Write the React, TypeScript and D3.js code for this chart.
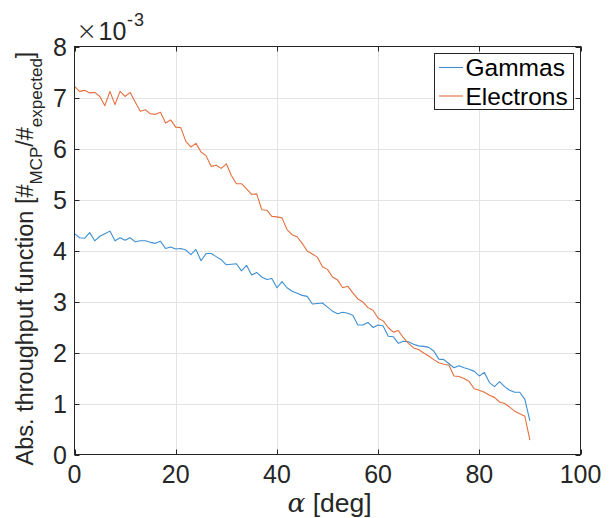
import React from "react";
import * as d3 from "d3";

const angles: number[] = d3.range(0, 91);
const gammas: number[] = [
  4.33, 4.25, 4.24, 4.35, 4.19, 4.28, 4.33, 4.38, 4.19, 4.25,
  4.2, 4.25, 4.17, 4.19, 4.19, 4.16, 4.14, 4.18, 4.04, 4.07,
  4.03, 4.04, 4.01, 3.92, 4.02, 3.8, 3.94, 3.94, 3.88, 3.82,
  3.72, 3.73, 3.74, 3.6, 3.71, 3.52, 3.57, 3.48, 3.43, 3.45,
  3.27, 3.39, 3.27, 3.2, 3.16, 3.12, 3.1, 2.95, 2.96, 2.97,
  2.89, 2.81, 2.76, 2.79, 2.77, 2.73, 2.54, 2.54, 2.59, 2.49,
  2.54, 2.52, 2.32, 2.31, 2.18, 2.22, 2.21, 2.16, 2.13, 2.12,
  2.1, 2.03, 1.87, 1.86, 1.78, 1.7, 1.74, 1.7, 1.67, 1.63,
  1.54, 1.61, 1.41, 1.33, 1.43, 1.33, 1.26, 1.22, 1.22, 1.08,
  0.66,
];
const electrons: number[] = [
  7.22, 7.12, 7.14, 7.09, 7.1, 7.02, 6.84, 7.12, 6.86, 7.12,
  7.02, 7.1, 6.91, 6.73, 6.76, 6.68, 6.67, 6.71, 6.5, 6.56,
  6.42, 6.41, 6.14, 6.03, 6.1, 5.93, 5.86, 5.65, 5.67, 5.61,
  5.7, 5.47, 5.31, 5.31, 5.21, 5.1, 5.11, 4.8, 4.79, 4.67,
  4.66, 4.64, 4.41, 4.31, 4.27, 4.14, 3.99, 3.93, 3.87, 3.68,
  3.63, 3.48, 3.42, 3.27, 3.3, 3.17, 3.05, 2.99, 2.88, 2.83,
  2.67, 2.62, 2.49, 2.4, 2.43, 2.29, 2.18, 2.09, 2.06, 1.99,
  1.93, 1.86, 1.8, 1.77, 1.75, 1.54, 1.53, 1.49, 1.43, 1.29,
  1.26, 1.22, 1.16, 1.12, 1.03, 1.0, 0.93, 0.85, 0.8, 0.75,
  0.28,
];
const xTicks: number[] = [0, 20, 40, 60, 80, 100];
const yTicks: number[] = [0, 1, 2, 3, 4, 5, 6, 7, 8];
const seriesNames: string[] = ["Gammas", "Electrons"];
const seriesColors: string[] = ["#3f8fd2", "#e4703f"];

const W = 615;
const H = 518;
const L = 74.5, R = 580.5, T = 46.5, B = 454.5;
const FONT = "'Liberation Sans', Arial, Helvetica, sans-serif";
const AX = "#262626";

export default function App() {
  const x = d3.scaleLinear().domain([0, 100]).range([L, R]);
  const y = d3.scaleLinear().domain([0, 8]).range([B, T]);
  const line = d3
    .line<number>()
    .x((_, i) => x(angles[i]))
    .y((d) => y(d));
  const series = [gammas, electrons];
  const tl = 5;
  return (
    <svg
      width={W}
      height={H}
      style={{ position: "absolute", left: 0, top: 0, background: "#fff" }}
      fontFamily={FONT}
    >
      <rect x={0} y={0} width={W} height={H} fill="#fff" />
      {xTicks.slice(1, -1).map((t) => (
        <line key={"gx" + t} x1={Math.round(x(t)) + 0.5} x2={Math.round(x(t)) + 0.5} y1={T} y2={B} stroke="#e3e3e3" strokeWidth={1} />
      ))}
      {yTicks.slice(1, -1).map((t) => (
        <line key={"gy" + t} x1={L} x2={R} y1={Math.round(y(t)) + 0.5} y2={Math.round(y(t)) + 0.5} stroke="#e3e3e3" strokeWidth={1} />
      ))}
      {series.map((s, i) => (
        <path key={"s" + i} d={line(s) || ""} fill="none" stroke={seriesColors[i]} strokeWidth={1.1} strokeLinejoin="round" />
      ))}
      <rect x={L} y={T} width={R - L} height={B - T} fill="none" stroke={AX} strokeWidth={1} />
      {xTicks.map((t) => {
        const px = Math.round(x(t)) + 0.5;
        return (
          <g key={"tx" + t}>
            <line x1={px} x2={px} y1={B} y2={B - tl} stroke={AX} />
            <line x1={px} x2={px} y1={T} y2={T + tl} stroke={AX} />
            <text x={x(t)} y={483} textAnchor="middle" fontSize={25} fill={AX}>
              {t}
            </text>
          </g>
        );
      })}
      {yTicks.map((t) => {
        const py = Math.round(y(t)) + 0.5;
        return (
          <g key={"ty" + t}>
            <line x1={L} x2={L + tl} y1={py} y2={py} stroke={AX} />
            <line x1={R} x2={R - tl} y1={py} y2={py} stroke={AX} />
            <text x={67} y={y(t) + 9} textAnchor="end" fontSize={25} fill={AX}>
              {t}
            </text>
          </g>
        );
      })}
      <text y={40} fontSize={25} fill={AX}>
        <tspan x={77} fontSize={30} fontFamily="Inter, 'DejaVu Sans', sans-serif" fontWeight={200}>×</tspan>
        <tspan x={98.5} fontFamily={FONT}>10</tspan>
        <tspan x={127} fontSize={18} dy={-14} letterSpacing={1}>-3</tspan>
      </text>
      <text x={(L + R) / 2 + 2} y={512} textAnchor="middle" fontSize={26.5} fill={AX}>
        <tspan fontFamily="'DejaVu Serif', serif" fontStyle="italic">α</tspan>
        {" [deg]"}
      </text>
      <text
        transform={`translate(33,${(T + B) / 2 + 8}) rotate(-90)`}
        textAnchor="middle"
        fontSize={23.5}
        fill={AX}
      >
        Abs. throughput function [#
        <tspan fontSize={17} dy={9}>MCP</tspan>
        <tspan dy={-9}>/#</tspan>
        <tspan fontSize={17} dy={9}>expected</tspan>
        <tspan dy={-9}>]</tspan>
      </text>
      <rect x={434.5} y={53.5} width={139} height={56} fill="#fff" stroke={AX} strokeWidth={1} />
      {seriesNames.map((n, i) => {
        const cy = 67.5 + i * 28.5;
        return (
          <g key={"lg" + i}>
            <line x1={439} x2={463} y1={cy} y2={cy} stroke={seriesColors[i]} strokeWidth={1.1} />
            <text x={465.5} y={cy + 8.5} fontSize={24.5} fill="#000">
              {n}
            </text>
          </g>
        );
      })}
    </svg>
  );
}
